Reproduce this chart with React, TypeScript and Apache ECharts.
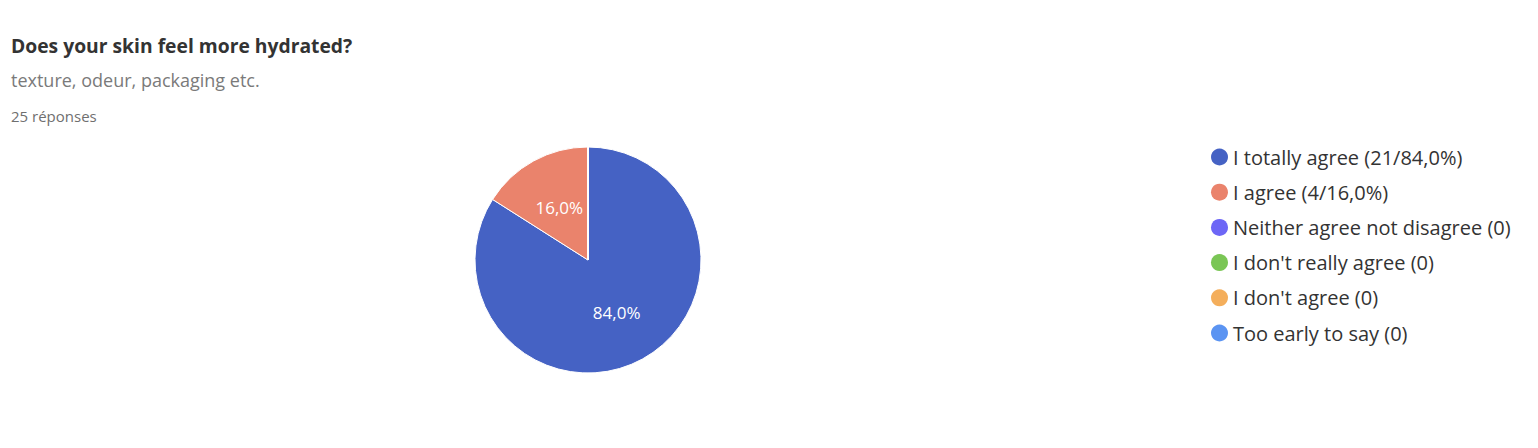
import React, { useEffect, useRef } from "react";
import * as echarts from "echarts";

const titleText = "Does your skin feel more hydrated?";
const subtitleText = "texture, odeur, packaging etc.";
const responsesText = "25 réponses";

const categories = [
  "I totally agree",
  "I agree",
  "Neither agree not disagree",
  "I don't really agree",
  "I don't agree",
  "Too early to say",
];
const counts = [21, 4, 0, 0, 0, 0];
const legendSuffixes = ["(21/84,0%)", "(4/16,0%)", "(0)", "(0)", "(0)", "(0)"];
const sliceLabels = ["84,0%", "16,0%", "", "", "", ""];
const colors = ["#4562C4", "#EA836C", "#6D66F6", "#7AC655", "#F4AE5B", "#5B94F2"];

export default function App() {
  const ref = useRef<HTMLDivElement>(null);
  useEffect(() => {
    if (!ref.current) return;
    const chart = echarts.init(ref.current, undefined, { renderer: "svg" });
    const font = "'Open Sans', 'Noto Sans', sans-serif";
    chart.setOption({
      animation: false,
      color: colors,
      textStyle: { fontFamily: font },
      title: [
        {
          text: titleText,
          left: 6,
          top: 31,
          textStyle: { fontSize: 19.3, fontWeight: "bold", color: "#333333", fontFamily: font },
        },
        {
          text: subtitleText,
          left: 6,
          top: 66,
          textStyle: { fontSize: 18, fontWeight: "normal", color: "#7a7a7a", fontFamily: font },
        },
        {
          text: responsesText,
          left: 6,
          top: 103,
          textStyle: { fontSize: 15, fontWeight: "normal", color: "#6f6f6f", fontFamily: font },
        },
      ],
      legend: {
        orient: "vertical",
        left: 1206,
        top: 141,
        icon: "circle",
        itemWidth: 17,
        itemHeight: 17,
        itemGap: 13.2,
        selectedMode: false,
        itemStyle: { borderWidth: 0 },
        textStyle: { fontSize: 20, lineHeight: 22, color: "#333333", fontFamily: font, padding: [0, 0, 0, 0] },
        formatter: (name: string) => {
          const i = categories.indexOf(name);
          return name + " " + legendSuffixes[i];
        },
        data: categories,
      },
      series: [
        {
          type: "pie",
          center: [588, 260],
          radius: [0, 113],
          startAngle: 90,
          clockwise: true,
          avoidLabelOverlap: false,
          itemStyle: { borderColor: "#ffffff", borderWidth: 1 },
          label: {
            show: true,
            position: "inside",
            color: "#ffffff",
            fontSize: 17,
            fontFamily: font,
            formatter: (p: any) => sliceLabels[p.dataIndex],
          },
          labelLine: { show: false },
          emphasis: { disabled: true },
          data: categories.map((c, i) => ({ name: c, value: counts[i] })),
        },
      ],
    });
    return () => chart.dispose();
  }, []);
  return (
    <div
      ref={ref}
      style={{ position: "absolute", left: 0, top: 0, width: 1538, height: 448 }}
    />
  );
}
